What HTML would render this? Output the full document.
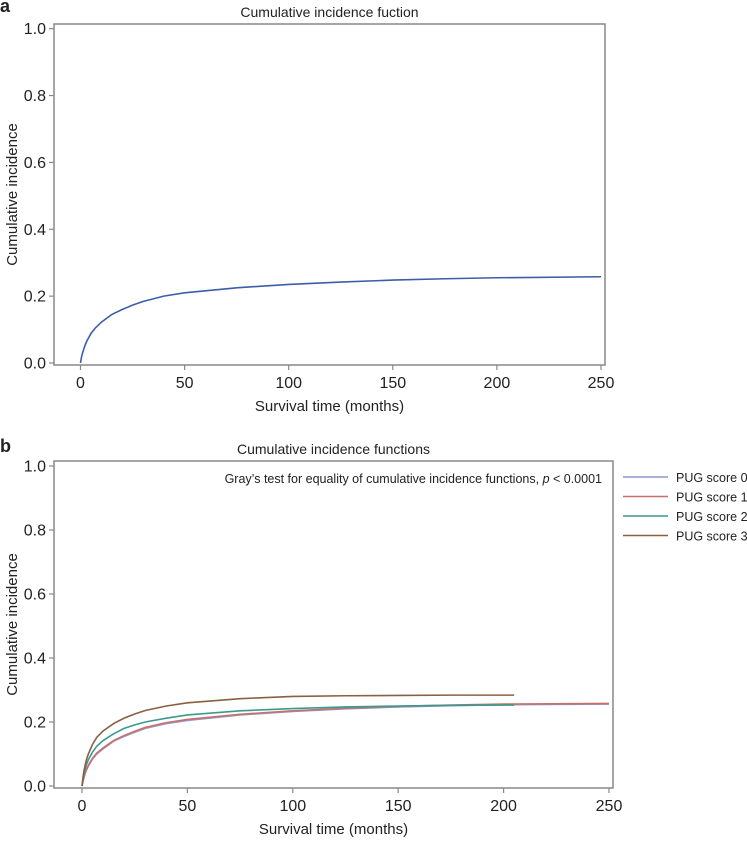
<!DOCTYPE html>
<html><head><meta charset="utf-8"><style>
body{margin:0;background:#fff;}
svg text{font-family:"Liberation Sans",Arial,sans-serif;fill:#222;}
</style></head><body>
<svg id="chart" width="747" height="839">
</svg>
<script>
const xTicks=[0,50,100,150,200,250];
const yTicks=[0.0,0.2,0.4,0.6,0.8,1.0];
const timesA=[0,0.5,1,2,3,5,7,10,15,20,25,30,40,50,75,100,125,150,175,200,250];
const cifA=[0,0.018,0.03,0.05,0.065,0.088,0.104,0.122,0.145,0.16,0.173,0.184,0.2,0.21,0.225,0.235,0.242,0.248,0.252,0.255,0.258];
const seriesNames=["PUG score 0","PUG score 1","PUG score 2","PUG score 3"];
const seriesColors=["#8f97c8","#c8706a","#3a9a8e","#8a6040"];
const timesB0=[0,0.5,1,2,3,5,7,10,15,20,25,30,40,50,75,100,125,150,175,200,250];
const cifB0=[0,0.016,0.028,0.048,0.062,0.084,0.1,0.116,0.14,0.155,0.168,0.18,0.195,0.205,0.222,0.233,0.241,0.247,0.251,0.254,0.256];
const timesB1=[0,0.5,1,2,3,5,7,10,15,20,25,30,40,50,75,100,125,150,175,200,250];
const cifB1=[0,0.017,0.03,0.05,0.065,0.087,0.103,0.119,0.142,0.158,0.171,0.183,0.198,0.208,0.224,0.235,0.243,0.249,0.253,0.256,0.258];
const timesB2=[0,0.5,1,2,3,5,7,10,15,20,25,30,40,50,75,100,125,150,175,205];
const cifB2=[0,0.022,0.04,0.065,0.082,0.106,0.124,0.142,0.163,0.18,0.191,0.2,0.212,0.222,0.235,0.242,0.247,0.25,0.252,0.253];
const timesB3=[0,0.5,1,2,3,5,7,10,15,20,25,30,40,50,75,100,125,150,175,205];
const cifB3=[0,0.028,0.05,0.08,0.1,0.13,0.152,0.172,0.195,0.212,0.225,0.236,0.25,0.26,0.273,0.28,0.282,0.283,0.284,0.284];

const NS="http://www.w3.org/2000/svg";
const svg=document.getElementById('chart');
function mk(tag,attrs,parent){const e=document.createElementNS(NS,tag);for(const k in attrs)e.setAttribute(k,attrs[k]);(parent||svg).appendChild(e);return e;}
function txt(s,attrs,parent){const t=mk('text',attrs,parent);t.textContent=s;return t;}

function panel(p){
  const g=mk('g',{});
  
  
  const xs=v=>p.x0+(v/250)*(p.x250-p.x0);
  const ys=v=>p.y0-v*(p.y0-p.y1);
  const frame=mk('rect',{x:p.left,y:p.top,width:p.right-p.left,height:p.bottom-p.top,fill:'none',stroke:'#888','stroke-width':1.5},g);
  
  
  yTicks.forEach(v=>{
    const l=mk('line',{x1:p.left-5,x2:p.left,y1:ys(v),y2:ys(v),stroke:'#888','stroke-width':1.2},g);
    
    
    const t=txt(v.toFixed(1),{x:p.left-8,y:ys(v)+5.5,'text-anchor':'end','font-size':16},g);
    
    
  });
  xTicks.forEach(v=>{
    const l=mk('line',{x1:xs(v),x2:xs(v),y1:p.bottom,y2:p.bottom+5,stroke:'#888','stroke-width':1.2},g);
    
    
    const t=txt(String(v),{x:xs(v),y:p.bottom+23,'text-anchor':'middle','font-size':16},g);
    
    
  });
  const tt=txt(p.title,{x:(p.left+p.right)/2,y:p.top-7,'text-anchor':'middle','font-size':14},g);
  
  
  const xl=txt('Survival time (months)',{x:(p.left+p.right)/2,y:p.bottom+46,'text-anchor':'middle','font-size':15},g);
  
  
  const cy=(p.top+p.bottom)/2;
  const yl=txt('Cumulative incidence',{x:17,y:cy,'text-anchor':'middle','font-size':15,transform:`rotate(-90 17 ${cy})`},g);
  
  
  const pl=txt(p.letter,{x:0,y:p.letterY,'font-size':18,'font-weight':'bold'},g);
  
  
  p.series.forEach(s=>{
    let d='M'+xs(s.t[0])+','+ys(s.v[0]);
    for(let i=1;i<s.t.length;i++){
      d+=' L'+xs(s.t[i])+','+ys(s.v[i]);
    }
    const path=mk('path',{d:d,fill:'none',stroke:s.color,'stroke-width':1.6},g);
    
    
  });
  return {g,xs,ys};
}

panel({name:'panel-a',letter:'a',letterY:12,title:'Cumulative incidence fuction',
  left:54,right:605,top:24,bottom:365,x0:80.5,x250:601,y0:363,y1:28.7,
  series:[{name:'cif-line',t:timesA,v:cifA,color:'#3b5ea8'}]});

const pb=panel({name:'panel-b',letter:'b',letterY:452,title:'Cumulative incidence functions',
  left:54,right:613,top:461,bottom:788,x0:82,x250:609,y0:786,y1:466,
  series:[
    {name:'series-score-0',t:timesB0,v:cifB0,color:seriesColors[0]},
    {name:'series-score-1',t:timesB1,v:cifB1,color:seriesColors[1]},
    {name:'series-score-2',t:timesB2,v:cifB2,color:seriesColors[2]},
    {name:'series-score-3',t:timesB3,v:cifB3,color:seriesColors[3]}
  ]});
const ann=txt('',{x:602,y:483,'text-anchor':'end','font-size':12.5},pb.g);


ann.innerHTML='Gray’s test for equality of cumulative incidence functions, <tspan font-style="italic">p</tspan> &lt; 0.0001';

const legend=mk('g',{});


seriesNames.forEach((n,i)=>{
  const y=477+i*19.5;
  const e=mk('g',{},legend);
  
  
  mk('line',{x1:623,x2:668,y1:y,y2:y,stroke:seriesColors[i],'stroke-width':1.6},e);
  txt(n,{x:676,y:y+5,'font-size':12.5},e);
});
</script>
</body></html>
